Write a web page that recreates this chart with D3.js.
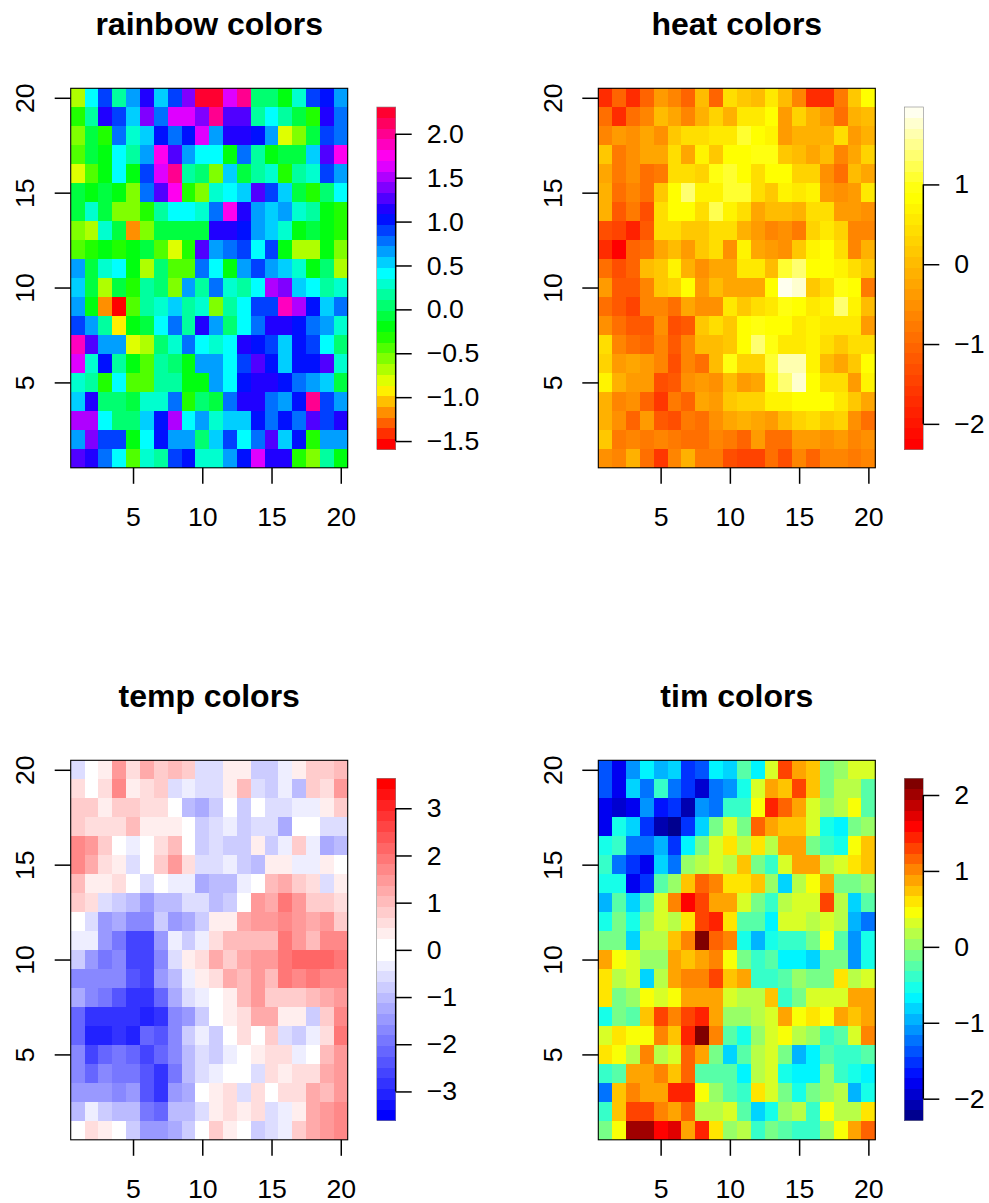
<!DOCTYPE html>
<html>
<head>
<meta charset="utf-8">
<title>colour scales</title>
<script src="https://cdnjs.cloudflare.com/ajax/libs/d3/7.8.5/d3.min.js"></script>
<style>
  html, body { margin: 0; padding: 0; background: #fff; }
  text { font-family: "Liberation Sans", Arial, sans-serif; fill: #000; }
  .tick text { font-size: 26.67px; }
  .title { font-size: 32px; font-weight: bold; text-anchor: middle; }
  rect.cell, rect.key { shape-rendering: crispEdges; }
</style>
</head>
<body>
<svg id="chart" width="989" height="1203"></svg>
<script>
// colour key level (0-31) of every cell, rows from y=20 down to y=1
var rainbowLevels = [
  [7,16,20,14,18,22,17,20,24,31,31,26,29,13,13,11,15,20,21,18],
  [10,14,22,20,17,24,19,26,26,24,29,23,23,14,16,14,12,10,22,19],
  [8,12,10,19,15,17,21,19,21,26,18,22,22,21,18,6,8,12,20,19],
  [9,12,11,16,14,18,27,23,18,16,16,11,19,14,11,12,12,17,23,27],
  [6,9,11,16,11,20,26,29,14,13,8,17,12,14,15,10,14,15,20,18],
  [12,11,12,11,8,19,23,27,10,8,15,16,17,23,20,17,12,10,13,16],
  [12,15,12,8,8,10,14,16,16,15,19,27,22,18,17,18,15,14,11,10],
  [8,7,15,12,3,8,12,12,12,12,22,22,21,18,17,15,11,12,11,10],
  [9,10,11,10,11,12,9,6,10,23,18,19,20,16,20,11,7,7,11,8],
  [18,12,15,16,11,7,13,9,9,19,16,11,18,20,18,17,15,11,13,7],
  [17,12,7,12,10,14,13,8,18,14,19,15,14,16,25,24,17,16,14,15],
  [18,11,3,0,9,14,15,17,14,15,8,14,16,20,20,28,25,21,17,19],
  [20,18,14,5,11,12,16,19,14,22,18,13,16,19,22,22,21,19,18,15],
  [28,23,18,18,6,7,13,15,19,16,15,16,22,21,20,17,21,20,16,13],
  [26,15,21,14,11,9,14,13,11,18,18,16,20,23,21,17,21,21,23,15],
  [15,14,10,16,9,9,14,14,11,11,18,16,21,22,22,21,19,18,17,12],
  [17,22,13,13,12,15,15,19,10,13,12,19,22,22,19,18,21,29,20,18],
  [25,25,16,13,13,17,21,25,16,18,15,17,17,21,19,21,19,23,20,22],
  [18,24,20,20,11,16,21,18,18,13,17,20,16,19,23,17,21,10,18,18],
  [23,22,19,16,9,15,14,20,21,15,15,18,21,26,22,22,10,8,14,11]
];
var heatLevels = [
  [4,9,4,9,14,12,9,17,9,20,18,17,21,17,12,4,4,11,18,23],
  [10,4,10,12,17,15,12,16,19,16,21,21,23,14,19,16,14,10,16,17],
  [12,14,13,15,13,18,20,20,21,21,25,23,22,14,16,16,16,20,14,16],
  [18,11,13,15,15,20,15,22,18,23,23,24,24,18,17,15,17,12,15,19],
  [15,11,13,10,11,20,20,19,24,25,23,20,23,23,19,19,13,10,17,15],
  [16,10,12,10,18,23,27,22,22,25,25,20,18,22,21,22,14,13,14,21],
  [16,8,11,7,20,23,23,20,26,22,20,15,17,17,16,20,20,14,14,13],
  [7,6,3,8,20,20,18,18,20,20,16,14,12,13,11,19,21,19,12,12],
  [4,0,9,10,15,17,14,18,20,13,22,15,14,13,18,22,23,20,12,16],
  [10,7,9,17,18,22,16,13,15,15,21,21,17,25,27,23,23,22,20,18],
  [14,8,8,12,18,19,23,14,17,15,15,15,23,31,30,18,20,24,23,11],
  [10,8,6,12,12,10,15,13,13,21,18,20,21,24,23,21,22,27,22,17],
  [13,10,8,8,13,7,8,18,20,18,23,24,23,23,21,22,21,21,21,14],
  [20,12,10,9,12,8,12,17,17,18,23,27,24,21,21,22,20,18,20,20],
  [19,14,15,14,12,7,12,10,17,24,19,19,25,29,29,22,17,15,18,23],
  [22,16,14,14,7,8,13,14,13,17,14,15,24,27,30,23,20,20,14,22],
  [16,12,13,9,5,11,9,15,14,18,19,19,22,22,23,23,23,21,18,15],
  [16,13,9,14,8,7,11,10,13,15,16,15,14,17,19,20,18,19,13,10],
  [18,11,12,11,12,11,10,10,12,11,9,14,10,10,14,14,13,14,12,13],
  [13,12,16,10,5,12,16,11,11,7,6,6,10,7,12,9,12,12,11,12]
];
var tempLevels = [
  [13,16,17,22,18,21,19,20,19,13,13,17,17,12,12,14,17,19,19,20],
  [18,16,18,23,17,18,19,13,14,13,13,17,20,13,12,14,11,19,18,22],
  [19,19,17,19,19,18,18,16,11,10,12,16,12,16,13,13,14,14,17,19],
  [19,18,18,18,20,17,17,17,16,12,13,14,12,13,13,10,16,16,13,13],
  [23,22,19,16,14,16,18,20,16,12,13,12,12,17,12,14,19,14,10,11],
  [23,21,18,17,13,16,19,22,18,13,13,14,12,11,17,17,14,14,17,16],
  [20,17,17,18,16,13,16,14,14,10,11,11,14,16,20,21,19,18,13,17],
  [19,18,13,12,11,9,11,11,13,13,11,12,16,22,21,24,22,19,19,18],
  [16,13,9,10,8,8,12,9,10,12,17,17,21,22,22,23,22,21,22,19],
  [14,14,9,7,4,4,9,14,12,14,18,20,20,20,20,24,22,20,23,23],
  [12,9,7,8,4,4,8,13,17,18,21,19,21,22,22,24,25,25,25,24],
  [8,8,8,8,5,4,9,11,14,17,18,21,20,22,20,24,23,24,23,23],
  [10,8,7,5,3,3,6,10,13,14,16,17,20,22,19,19,19,20,21,22],
  [6,3,3,3,3,2,3,8,9,12,16,17,18,21,21,17,17,12,19,23],
  [6,2,2,3,2,6,5,8,12,14,12,16,18,16,19,13,12,14,18,24],
  [8,4,6,7,6,4,6,8,11,13,12,14,16,17,18,18,14,16,20,22],
  [8,6,8,7,7,5,3,7,11,13,14,16,16,13,18,17,18,18,21,22],
  [9,9,9,8,9,5,3,9,10,16,17,18,13,18,16,18,18,21,20,22],
  [11,14,12,11,11,7,6,11,11,13,17,18,17,18,13,14,17,21,22,23],
  [16,18,17,16,12,9,9,10,12,16,19,17,16,12,13,14,19,21,22,23]
];
var timLevels = [
  [6,3,8,11,9,10,5,6,11,10,14,11,18,25,22,21,15,16,18,18],
  [6,3,10,7,13,7,5,2,7,8,12,18,22,21,25,21,15,17,17,14],
  [3,2,3,8,4,5,1,8,7,13,13,19,26,24,22,18,16,17,19,14],
  [3,12,10,5,1,0,5,10,15,18,15,24,22,21,21,18,12,11,15,16],
  [12,13,7,7,9,5,11,15,18,20,17,20,17,22,22,15,13,12,19,21],
  [13,7,5,3,10,7,16,17,18,17,21,15,13,18,22,22,17,18,20,21],
  [12,12,3,5,14,16,21,24,23,20,20,21,16,10,17,19,22,15,15,16],
  [9,14,10,14,18,23,27,25,22,22,18,15,13,17,18,18,25,17,10,14],
  [12,15,12,16,18,17,20,25,26,20,14,14,11,18,18,17,18,17,9,7],
  [15,15,10,17,17,21,23,31,24,23,12,9,12,13,13,15,19,14,8,12],
  [22,19,18,16,16,22,21,22,23,19,15,13,14,11,11,10,15,15,8,12],
  [20,17,18,10,17,22,23,23,25,21,22,13,13,14,16,15,15,20,17,18],
  [20,15,16,19,18,19,22,22,22,18,17,17,21,13,15,18,18,18,22,22],
  [12,15,14,21,25,23,25,26,22,16,16,17,18,22,19,20,19,22,21,22],
  [18,20,19,19,23,21,26,31,23,14,12,16,18,19,17,16,13,14,18,23],
  [20,19,17,23,17,18,24,22,15,10,14,17,18,15,9,11,14,13,13,14],
  [13,14,22,22,23,21,24,14,14,14,11,17,18,12,11,11,16,13,12,11],
  [7,21,23,22,22,26,26,19,16,14,13,20,18,15,12,15,16,17,9,12],
  [13,21,25,25,23,22,24,17,17,18,14,10,12,16,17,13,19,17,17,20],
  [15,19,30,30,27,28,22,26,20,16,17,13,15,14,13,13,16,19,22,24]
];

var axisTicks = [5, 10, 15, 20];

var rainbowKeyTicks = [-1.5, -1, -0.5, 0, 0.5, 1, 1.5, 2];
var heatKeyTicks = [-2, -1, 0, 1];
var tempKeyTicks = [-3, -2, -1, 0, 1, 2, 3];
var timKeyTicks = [-2, -1, 0, 1, 2];

var nLevels = 32;

// R rainbow(32)
var rainbowColors = d3.range(nLevels).map(function(i) {
  return d3.hsl(360 * i / nLevels, 1, 0.5).formatHex();
});

// R heat.colors(32): 24 hues, then 8 steps towards white
var heatColors = d3.range(24).map(function(i) {
  return d3.hsl(60 * i / 23, 1, 0.5).formatHex();
}).concat(d3.range(8).map(function(i) {
  return d3.rgb(255, 255, Math.round(255 * (1 / 16 + i / 8))).formatHex();
}));

// fields two.colors(32, "blue", "red", "white")
var tempScale = d3.scaleLinear().domain([0, 15, 16, 31]).range(["#0000ff", "#ffffff", "#ffffff", "#ff0000"]);
var tempColors = d3.range(nLevels).map(function(i) { return d3.rgb(tempScale(i)).formatHex(); });

// fields tim.colors(32)
var timScale = d3.scaleLinear()
  .domain([0, 7, 23, 39, 55, 63])
  .range(["#00008f", "#0000ff", "#00ffff", "#ffff00", "#ff0000", "#800000"]);
var timColors = d3.range(nLevels).map(function(i) { return d3.rgb(timScale(i * 63 / 31)).formatHex(); });

var svg = d3.select("#chart");

function fmtKey(step) {
  return function(d) {
    var s = step < 1 ? d3.format(".1f")(Math.abs(d)) : String(Math.abs(d));
    return (d < 0 ? "\u2212" : "") + s;
  };
}

/**
 * Draws one panel: image, box, axes, title and colour key.
 */
function panel(opt) {
  var left = opt.col === 0 ? 70.7 : 598.3;
  var top = opt.row === 0 ? 88.3 : 760.3;
  var w = 277, h = 379.5;
  var keyLeft = left + 306, keyW = 19;
  var keyTop = opt.row === 0 ? 107 : 778.3;
  var keyH = 342.4;

  var x = d3.scaleLinear().domain([0.5, 20.5]).range([left, left + w]);
  var y = d3.scaleLinear().domain([0.5, 20.5]).range([top + h, top]);
  var keyY = d3.scaleLinear().domain(opt.zRange).range([keyTop + keyH, keyTop]);
  var levelZ = d3.scaleLinear().domain([0, nLevels]).range(opt.zRange);

  var g = svg.append("g");

  var cells = [];
  opt.levels.forEach(function(row, r) {
    row.forEach(function(level, c) {
      cells.push({ x: c + 1, y: 20 - r, level: level });
    });
  });

  g.selectAll("rect.cell").data(cells).enter().append("rect")
    .attr("class", "cell")
    .attr("x", function(d) { return x(d.x - 0.5); })
    .attr("y", function(d) { return y(d.y + 0.5); })
    .attr("width", x(1.5) - x(0.5) + 0.3)
    .attr("height", y(0.5) - y(1.5) + 0.3)
    .attr("fill", function(d) { return opt.colors[d.level]; });

  g.append("rect")
    .attr("x", left).attr("y", top).attr("width", w).attr("height", h)
    .attr("fill", "none").attr("stroke", "#000").attr("stroke-width", 1.1);

  var xAxis = g.append("g")
    .attr("transform", "translate(0," + (top + h) + ")")
    .call(d3.axisBottom(x).tickValues(axisTicks).tickSize(16).tickPadding(23).tickSizeOuter(0));
  var yAxis = g.append("g")
    .attr("transform", "translate(" + left + ",0)")
    .call(d3.axisLeft(y).tickValues(axisTicks).tickSize(16).tickSizeOuter(0));
  yAxis.selectAll(".tick text")
    .attr("transform", "rotate(-90)")
    .attr("text-anchor", "middle")
    .attr("x", 0)
    .attr("y", -36.7)
    .attr("dy", 0);
  [xAxis, yAxis].forEach(function(a) {
    a.select(".domain").remove();
    a.selectAll(".tick line").attr("stroke", "#000").attr("stroke-width", 1.5);
  });

  g.append("text")
    .attr("class", "title")
    .attr("x", left + w / 2)
    .attr("y", top - 53)
    .text(opt.title);

  // colour key
  g.selectAll("rect.key").data(d3.range(nLevels)).enter().append("rect")
    .attr("class", "key")
    .attr("x", keyLeft)
    .attr("y", function(d) { return keyY(levelZ(d + 1)); })
    .attr("width", keyW)
    .attr("height", keyH / nLevels + 0.3)
    .attr("fill", function(d) { return opt.colors[d]; });
  g.append("rect")
    .attr("x", keyLeft).attr("y", keyTop).attr("width", keyW).attr("height", keyH)
    .attr("fill", "none").attr("stroke", "#888").attr("stroke-width", 0.6);

  var keyAxis = g.append("g")
    .attr("transform", "translate(" + (keyLeft + keyW) + ",0)")
    .call(d3.axisRight(keyY).tickValues(opt.keyTicks).tickFormat(fmtKey(opt.keyStep))
      .tickSize(16).tickPadding(15).tickSizeOuter(0));
  keyAxis.select(".domain")
    .attr("d", "M0," + keyY(opt.keyTicks[0]) + "V" + keyY(opt.keyTicks[opt.keyTicks.length - 1]))
    .attr("stroke", "#000").attr("stroke-width", 1.5);
  keyAxis.selectAll(".tick line").attr("stroke", "#000").attr("stroke-width", 1.5);
}

panel({ title: "rainbow colors", col: 0, row: 0, levels: rainbowLevels, colors: rainbowColors,
        zRange: [-1.595, 2.305], keyTicks: rainbowKeyTicks, keyStep: 0.5 });
panel({ title: "heat colors", col: 1, row: 0, levels: heatLevels, colors: heatColors,
        zRange: [-2.32, 1.97], keyTicks: heatKeyTicks, keyStep: 1 });
panel({ title: "temp colors", col: 0, row: 1, levels: tempLevels, colors: tempColors,
        zRange: [-3.62, 3.635], keyTicks: tempKeyTicks, keyStep: 1 });
panel({ title: "tim colors", col: 1, row: 1, levels: timLevels, colors: timColors,
        zRange: [-2.29, 2.22], keyTicks: timKeyTicks, keyStep: 1 });
</script>
</body>
</html>
